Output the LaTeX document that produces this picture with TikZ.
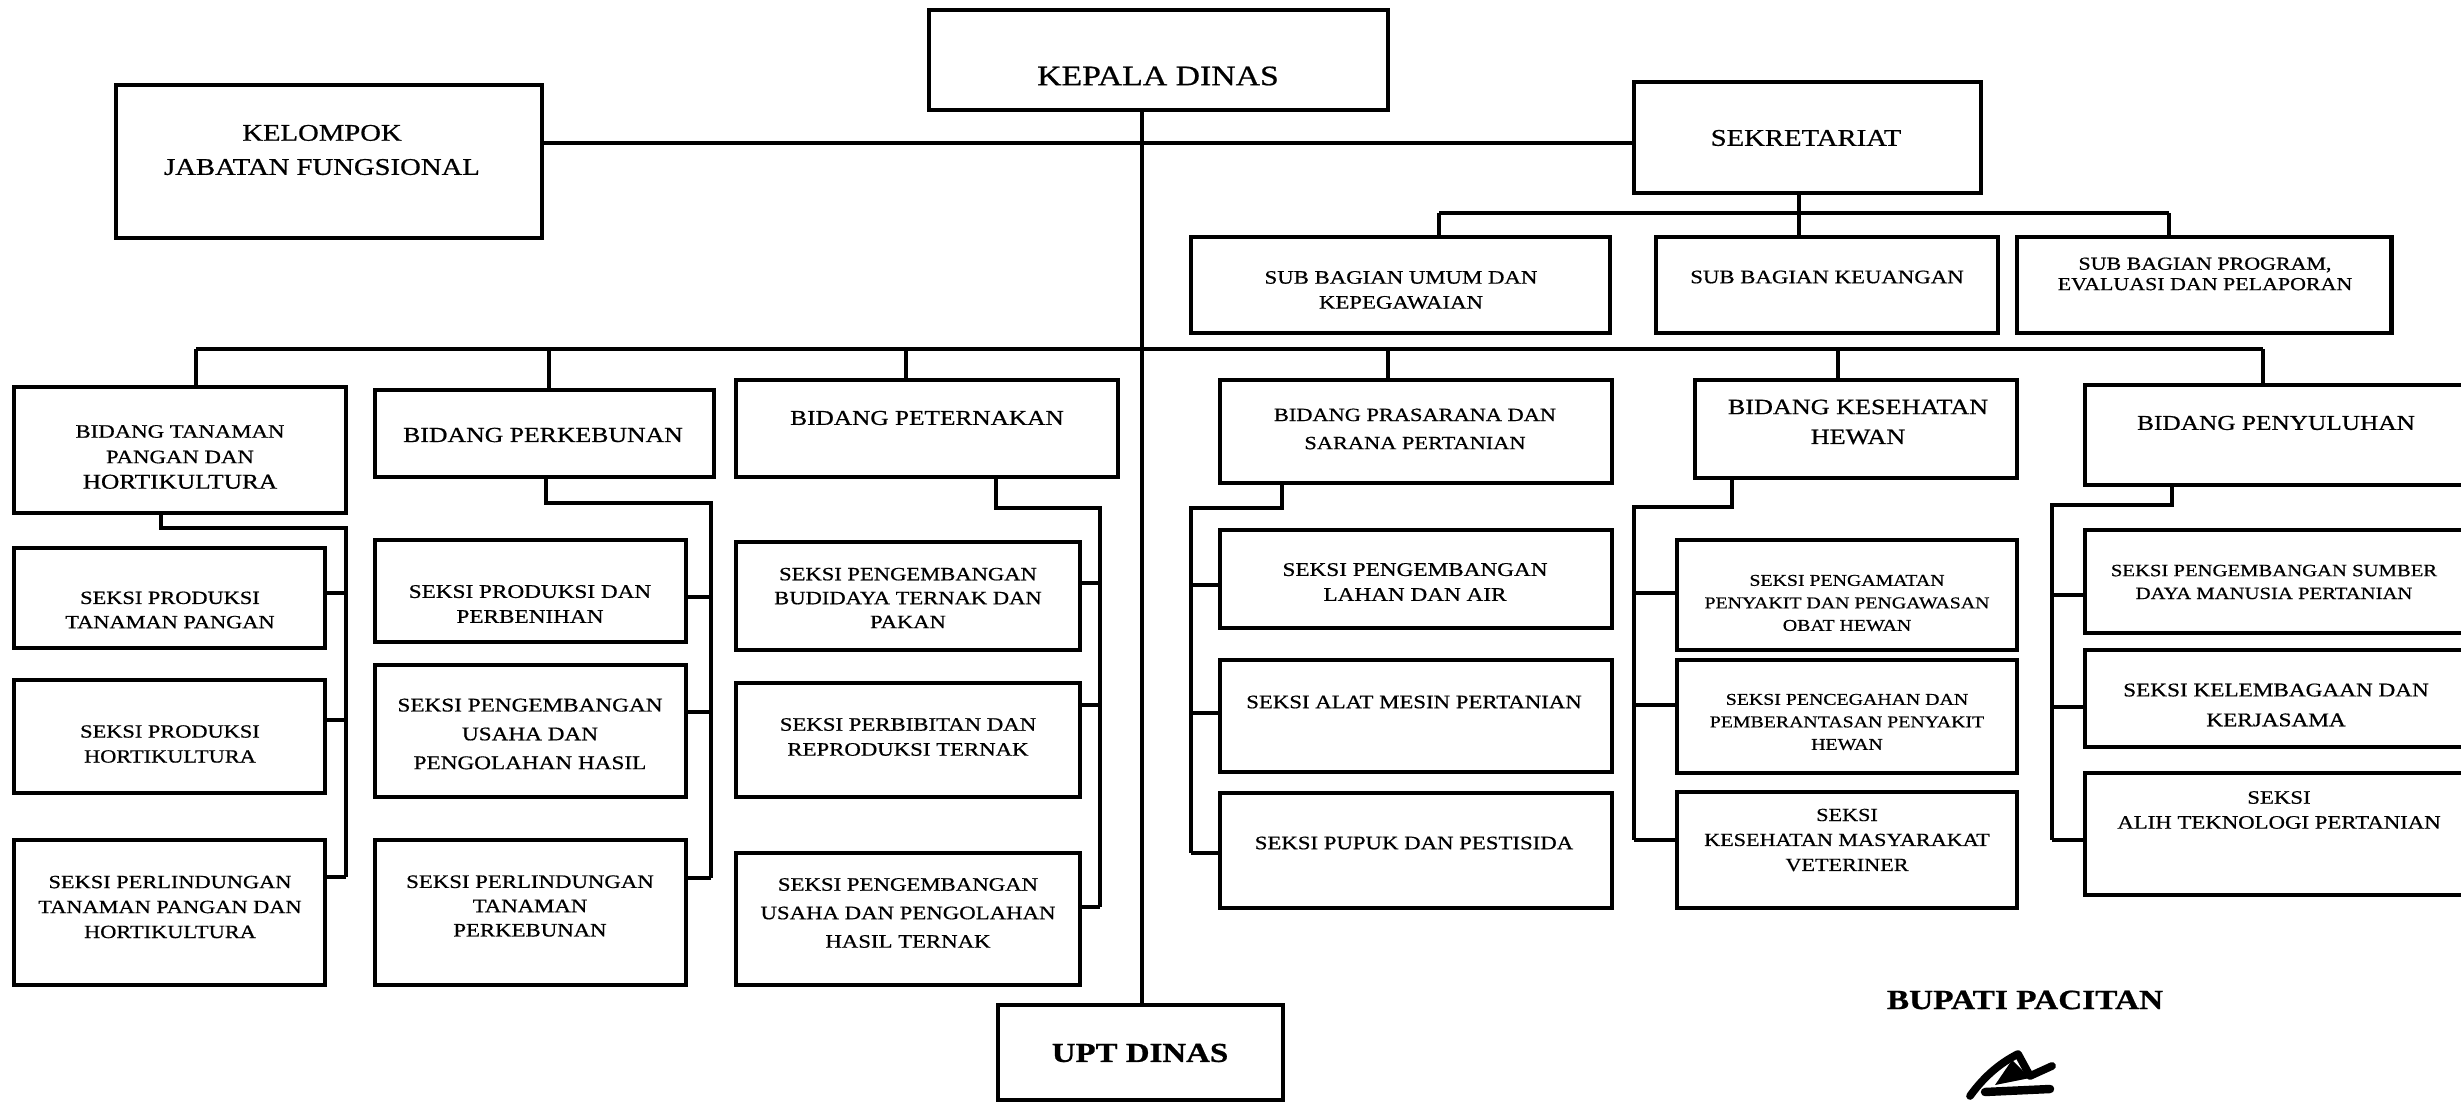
\documentclass[tikz,border=0pt]{standalone}
\usepackage{fontspec}
\setmainfont{Liberation Serif}[FakeStretch=1.2, FakeBold=0.7]
\usetikzlibrary{fit}
\newcommand{\setfz}[2]{\fontsize{#1}{#2}\selectfont}
\begin{document}
\begin{tikzpicture}[x=0.01cm, y=-0.01cm,
  box/.style={draw, line width=1.4pt, rectangle, inner sep=0pt},
  txt/.style={align=center, inner sep=0pt},
  mainline/.style={line width=1.4pt},
  barline/.style={line width=1.2pt},
  conn/.style={line width=0.95pt, line join=miter}]
\useasboundingbox (0,0) rectangle (2461,1104);
\clip (0,0) rectangle (2461,1104);

% ---------- top level ----------
\node[box, fit={(929,10) (1388,110)}] (kd) {};
\node[txt, font=\setfz{8}{10}] (tkd) at (1158,76) {KEPALA DINAS};

\node[box, fit={(116,85) (542,238)}] (kel) {};
\node[txt, font=\setfz{6.8}{9.7}] (tkel) at (322,150) {KELOMPOK\\JABATAN FUNGSIONAL};

\node[box, fit={(1634,82) (1981,193)}] (sek) {};
\node[txt, font=\setfz{6.8}{8.5}] (tsek) at (1806,138) {SEKRETARIAT};

\node[box, fit={(1191,237) (1610,333)}] (sb1) {};
\node[txt, font=\setfz{5.4}{7.1}] (tsb1) at (1401,290) {SUB BAGIAN UMUM DAN\\KEPEGAWAIAN};
\node[box, fit={(1656,237) (1998,333)}] (sb2) {};
\node[txt, font=\setfz{5.4}{7.1}] (tsb2) at (1827,277) {SUB BAGIAN KEUANGAN};
\node[box, fit={(2017,237) (2391,333)}] (sb3) {};
\node[txt, font=\setfz{5.2}{5.8}] (tsb3) at (2205,274) {SUB BAGIAN PROGRAM,\\EVALUASI DAN PELAPORAN};

\node[box, fit={(998,1005) (1283,1100)}] (upt) {};
\node[txt, font=\setfz{7.8}{9}\bfseries] (tupt) at (1140,1053) {UPT DINAS};

% ---------- bidang ----------
\node[box, fit={(14,387) (346,513)}] (b1) {};
\node[txt, font=\setfz{5.4}{7.25}] (tb1) at (180,457) {BIDANG TANAMAN\\PANGAN DAN\\{\setfz{6}{7.25}HORTIKULTURA}};
\node[box, fit={(375,390) (714,477)}] (b2) {};
\node[txt, font=\setfz{6.1}{7.5}] (tb2) at (543,435) {BIDANG PERKEBUNAN};
\node[box, fit={(736,380) (1118,477)}] (b3) {};
\node[txt, font=\setfz{6.0}{7.5}] (tb3) at (927,418) {BIDANG PETERNAKAN};
\node[box, fit={(1220,380) (1612,483)}] (b4) {};
\node[txt, font=\setfz{5.3}{8}] (tb4) at (1415,429) {BIDANG PRASARANA DAN\\SARANA PERTANIAN};
\node[box, fit={(1695,380) (2017,478)}] (b5) {};
\node[txt, font=\setfz{6.2}{8.5}] (tb5) at (1858,422) {BIDANG KESEHATAN\\HEWAN};
\node[box, fit={(2085,385) (2520,485)}] (b6) {};
\node[txt, font=\setfz{6.0}{7.5}] (tb6) at (2276,423) {BIDANG PENYULUHAN};

% ---------- seksi column 1 ----------
\node[box, fit={(14,548) (325,648)}] (s11) {};
\node[txt, font=\setfz{5.3}{6.9}] (ts11) at (170,610) {SEKSI PRODUKSI\\TANAMAN PANGAN};
\node[box, fit={(14,680) (325,793)}] (s12) {};
\node[txt, font=\setfz{5.3}{7.1}] (ts12) at (170,744) {SEKSI PRODUKSI\\HORTIKULTURA};
\node[box, fit={(14,840) (325,985)}] (s13) {};
\node[txt, font=\setfz{5.3}{7.1}] (ts13) at (170,907) {SEKSI PERLINDUNGAN\\TANAMAN PANGAN DAN\\HORTIKULTURA};

% ---------- seksi column 2 ----------
\node[box, fit={(375,540) (686,642)}] (s21) {};
\node[txt, font=\setfz{5.5}{7.1}] (ts21) at (530,604) {SEKSI PRODUKSI DAN\\PERBENIHAN};
\node[box, fit={(375,665) (686,797)}] (s22) {};
\node[txt, font=\setfz{5.5}{8.2}] (ts22) at (530,734) {SEKSI PENGEMBANGAN\\USAHA DAN\\PENGOLAHAN HASIL};
\node[box, fit={(375,840) (686,985)}] (s23) {};
\node[txt, font=\setfz{5.4}{6.9}] (ts23) at (530,906) {SEKSI PERLINDUNGAN\\TANAMAN\\PERKEBUNAN};

% ---------- seksi column 3 ----------
\node[box, fit={(736,542) (1080,650)}] (s31) {};
\node[txt, font=\setfz{5.35}{6.8}] (ts31) at (908,598) {SEKSI PENGEMBANGAN\\BUDIDAYA TERNAK DAN\\PAKAN};
\node[box, fit={(736,683) (1080,797)}] (s32) {};
\node[txt, font=\setfz{5.4}{7.1}] (ts32) at (908,737) {SEKSI PERBIBITAN DAN\\REPRODUKSI TERNAK};
\node[box, fit={(736,853) (1080,985)}] (s33) {};
\node[txt, font=\setfz{5.4}{8.1}] (ts33) at (908,913) {SEKSI PENGEMBANGAN\\USAHA DAN PENGOLAHAN\\HASIL TERNAK};

% ---------- seksi column 4 ----------
\node[box, fit={(1220,530) (1612,628)}] (s41) {};
\node[txt, font=\setfz{5.5}{7.1}] (ts41) at (1415,582) {SEKSI PENGEMBANGAN\\LAHAN DAN AIR};
\node[box, fit={(1220,660) (1612,772)}] (s42) {};
\node[txt, font=\setfz{5.4}{7}] (ts42) at (1414,702) {SEKSI ALAT MESIN PERTANIAN};
\node[box, fit={(1220,793) (1612,908)}] (s43) {};
\node[txt, font=\setfz{5.4}{7}] (ts43) at (1414,843) {SEKSI PUPUK DAN PESTISIDA};

% ---------- seksi column 5 ----------
\node[box, fit={(1677,540) (2017,650)}] (s51) {};
\node[txt, font=\setfz{4.7}{6.4}] (ts51) at (1847,603) {SEKSI PENGAMATAN\\PENYAKIT DAN PENGAWASAN\\OBAT HEWAN};
\node[box, fit={(1677,660) (2017,773)}] (s52) {};
\node[txt, font=\setfz{4.7}{6.4}] (ts52) at (1847,722) {SEKSI PENCEGAHAN DAN\\PEMBERANTASAN PENYAKIT\\HEWAN};
\node[box, fit={(1677,792) (2017,908)}] (s53) {};
\node[txt, font=\setfz{5.25}{7.1}] (ts53) at (1847,840) {SEKSI\\KESEHATAN MASYARAKAT\\VETERINER};

% ---------- seksi column 6 ----------
\node[box, fit={(2085,530) (2520,633)}] (s61) {};
\node[txt, font=\setfz{4.9}{6.5}] (ts61) at (2274,582) {SEKSI PENGEMBANGAN SUMBER\\DAYA MANUSIA PERTANIAN};
\node[box, fit={(2085,650) (2520,747)}] (s62) {};
\node[txt, font=\setfz{5.5}{8.5}] (ts62) at (2276,705) {SEKSI KELEMBAGAAN DAN\\KERJASAMA};
\node[box, fit={(2085,773) (2520,895)}] (s63) {};
\node[txt, font=\setfz{5.4}{7.1}] (ts63) at (2279,810) {SEKSI\\ALIH TEKNOLOGI PERTANIAN};

% ---------- bupati ----------
\node[txt, font=\setfz{7.9}{9}\bfseries] (bup) at (2025,1000) {BUPATI PACITAN};

% ---------- connectors: top ----------
\coordinate (vx) at (1142,0);
\coordinate (hy) at (0,143);
\draw[mainline] (kd.south -| vx) -- (upt.north -| vx);
\draw[mainline] (kel.east |- hy) -- (sek.west |- hy);

\coordinate (sj) at (1799,213);
\coordinate (sa) at (1439,213);
\coordinate (sc) at (2169,213);
\draw[conn] (sek.south -| sj) -- (sj);
\draw[conn] (sa) -- (sc);
\draw[conn] (sa) -- (sa |- sb1.north);
\draw[conn] (sj) -- (sj |- sb2.north);
\draw[conn] (sc) -- (sc |- sb3.north);

% bidang bar
\coordinate (j1) at (196,349);
\coordinate (j2) at (549,349);
\coordinate (j3) at (906,349);
\coordinate (j4) at (1388,349);
\coordinate (j5) at (1838,349);
\coordinate (j6) at (2263,349);
\draw[barline] (j1) -- (j6);
\draw[conn] (j1) -- (j1 |- b1.north);
\draw[conn] (j2) -- (j2 |- b2.north);
\draw[conn] (j3) -- (j3 |- b3.north);
\draw[conn] (j4) -- (j4 |- b4.north);
\draw[conn] (j5) -- (j5 |- b5.north);
\draw[conn] (j6) -- (j6 |- b6.north);

% column 1
\coordinate (d1) at (161,0);
\coordinate (v1t) at (346,528);
\coordinate (v11) at (346,593);
\coordinate (v12) at (346,720);
\coordinate (v13) at (346,877);
\draw[conn] (b1.south -| d1) |- (v1t) -- (v13);
\draw[conn] (v11) -- (v11 -| s11.east);
\draw[conn] (v12) -- (v12 -| s12.east);
\draw[conn] (v13) -- (v13 -| s13.east);

% column 2
\coordinate (d2) at (546,0);
\coordinate (v2t) at (711,503);
\coordinate (v21) at (711,597);
\coordinate (v22) at (711,712);
\coordinate (v23) at (711,878);
\draw[conn] (b2.south -| d2) |- (v2t) -- (v23);
\draw[conn] (v21) -- (v21 -| s21.east);
\draw[conn] (v22) -- (v22 -| s22.east);
\draw[conn] (v23) -- (v23 -| s23.east);

% column 3
\coordinate (d3) at (996,0);
\coordinate (v3t) at (1100,508);
\coordinate (v31) at (1100,583);
\coordinate (v32) at (1100,705);
\coordinate (v33) at (1100,907);
\draw[conn] (b3.south -| d3) |- (v3t) -- (v33);
\draw[conn] (v31) -- (v31 -| s31.east);
\draw[conn] (v32) -- (v32 -| s32.east);
\draw[conn] (v33) -- (v33 -| s33.east);

% column 4
\coordinate (d4) at (1282,0);
\coordinate (v4t) at (1191,508);
\coordinate (v41) at (1191,585);
\coordinate (v42) at (1191,713);
\coordinate (v43) at (1191,853);
\draw[conn] (b4.south -| d4) |- (v4t) -- (v43);
\draw[conn] (v41) -- (v41 -| s41.west);
\draw[conn] (v42) -- (v42 -| s42.west);
\draw[conn] (v43) -- (v43 -| s43.west);

% column 5
\coordinate (d5) at (1732,0);
\coordinate (v5t) at (1634,507);
\coordinate (v51) at (1634,593);
\coordinate (v52) at (1634,705);
\coordinate (v53) at (1634,840);
\draw[conn] (b5.south -| d5) |- (v5t) -- (v53);
\draw[conn] (v51) -- (v51 -| s51.west);
\draw[conn] (v52) -- (v52 -| s52.west);
\draw[conn] (v53) -- (v53 -| s53.west);

% column 6
\coordinate (d6) at (2172,0);
\coordinate (v6t) at (2052,505);
\coordinate (v61) at (2052,595);
\coordinate (v62) at (2052,707);
\coordinate (v63) at (2052,840);
\draw[conn] (b6.south -| d6) |- (v6t) -- (v63);
\draw[conn] (v61) -- (v61 -| s61.west);
\draw[conn] (v62) -- (v62 -| s62.west);
\draw[conn] (v63) -- (v63 -| s63.west);

% ---------- signature ----------
\draw[line width=2.2pt, line cap=round, line join=round]
  (1970,1096) .. controls (1985,1075) and (2002,1062) .. (2018,1054)
  -- (2030,1076) -- (2052,1066);
\draw[line width=2.4pt, line cap=round] (1985,1092) -- (2050,1089);
\fill (2012,1060) -- (2030,1078) -- (1995,1085) -- cycle;
\end{tikzpicture}
\end{document}
